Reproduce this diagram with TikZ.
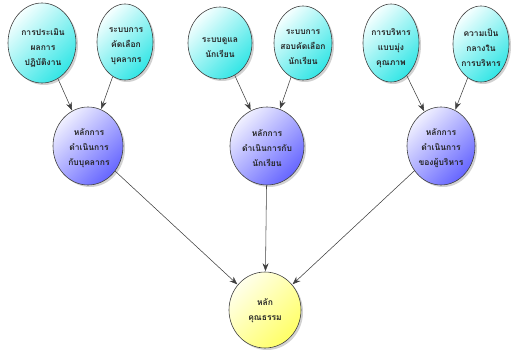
\documentclass[tikz,border=0pt]{standalone}
\usepackage{fontspec}
\newfontfamily\thaifont[Script=Thai]{Loma}
\usetikzlibrary{shapes.geometric,shadows,arrows.meta}
\begin{document}
\begin{tikzpicture}[x=1pt,y=-1pt,
  bub/.style={ellipse, draw=black!75, line width=0.6pt, inner sep=0pt,
    drop shadow={shadow xshift=2pt, shadow yshift=-2pt, opacity=0.18, fill=black}},
  topc/.style={bub, top color=cyan!4, bottom color=cyan!75!teal!80, shading angle=45},
  midc/.style={bub, top color=blue!6, bottom color=blue!60, shading angle=45},
  botc/.style={bub, top color=yellow!8, bottom color=yellow!60, shading angle=45},
  lbl/.style={font=\thaifont\bfseries\fontsize{8.5}{15}\selectfont, align=center, text=black!85, inner sep=0pt},
  conn/.style={draw=black!75, line width=0.55pt, -{Stealth[length=8pt,width=6pt]}, shorten >=0.5pt}
]
\useasboundingbox (0,0) rectangle (512,350);

\node[topc, minimum width=68pt, minimum height=80pt] (t1) at (42,43) {};
\node[lbl] (t1l) at (43,48) {การประเมิน\\ผลการ\\ปฏิบัติงาน};
\node[topc, minimum width=56pt, minimum height=76pt] (t2) at (125,42) {};
\node[lbl] (t2l) at (126,46) {ระบบการ\\คัดเลือก\\บุคลากร};
\node[topc, minimum width=64pt, minimum height=72pt] (t3) at (220,43) {};
\node[lbl] (t3l) at (220,48) {ระบบดูแล\\นักเรียน};
\node[topc, minimum width=58pt, minimum height=74pt] (t4) at (303,43) {};
\node[lbl] (t4l) at (303,47) {ระบบการ\\สอบคัดเลือก\\นักเรียน};
\node[topc, minimum width=56pt, minimum height=78pt] (t5) at (391,43) {};
\node[lbl] (t5l) at (391,48) {การบริหาร\\แบบมุ่ง\\คุณภาพ};
\node[topc, minimum width=56pt, minimum height=76pt] (t6) at (481,44) {};
\node[lbl] (t6l) at (481,48) {ความเป็น\\กลางใน\\การบริหาร};

\node[midc, minimum width=70pt, minimum height=78pt] (m1) at (88,146) {};
\node[lbl] (m1l) at (89,148) {หลักการ\\ดำเนินการ\\กับบุคลากร};
\node[midc, minimum width=74pt, minimum height=78pt] (m2) at (267,146) {};
\node[lbl] (m2l) at (267,148) {หลักการ\\ดำเนินการกับ\\นักเรียน};
\node[midc, minimum width=68pt, minimum height=78pt] (m3) at (441,146) {};
\node[lbl] (m3l) at (441,148) {หลักการ\\ดำเนินการ\\ของผู้บริหาร};

\node[botc, minimum width=72pt, minimum height=76pt] (b) at (265,310) {};
\node[lbl] (bl) at (265,311) {หลัก\\คุณธรรม};

\draw[conn] (t1) -- (m1);
\draw[conn] (t2) -- (m1);
\draw[conn] (t3) -- (m2);
\draw[conn] (t4) -- (m2);
\draw[conn] (t5) -- (m3);
\draw[conn] (t6) -- (m3);
\draw[conn] (m1) -- (b);
\draw[conn] (m2) -- (b);
\draw[conn] (m3) -- (b);
\end{tikzpicture}
\end{document}
